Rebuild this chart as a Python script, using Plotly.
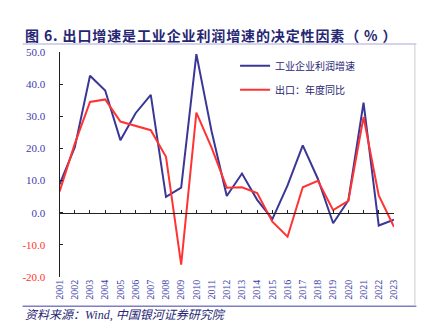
import plotly.graph_objects as go

years = list(range(2001, 2024))
profit_growth = [8.8, 20.4, 42.7, 38.1, 22.6, 31.0, 36.7, 4.9, 7.8, 49.4, 25.4, 5.2,
                 12.2, 4.0, -2.0, 8.5, 21.0, 10.5, -3.3, 3.8, 34.3, -4.0, -2.2]
export_growth = [6.6, 21.5, 34.5, 35.3, 28.4, 27.1, 25.7, 17.4, -16.2, 31.2, 20.3, 7.8,
                 7.9, 6.1, -2.8, -7.5, 7.9, 9.9, 0.8, 3.7, 29.8, 5.4, -4.4]
ytick_vals = [-20, -10, 0, 10, 20, 30, 40, 50]
series_names = ["工业企业利润增速", "出口：年度同比"]
title_text = "图 6. 出口增速是工业企业利润增速的决定性因素（ % ）"
source_text = "资料来源：Wind, 中国银河证券研究院"

W, H = 435, 331
BLUE = "#3b3796"
RED = "#ff3333"
TICKBLUE = "#3c3ca8"
NAVY = "#262673"

def px(x):
    return x / W

def py(y):
    return 1 - y / H

xdom = [px(55), px(398)]
ydom = [py(281), py(48)]
zero_pos = ydom[0] + (0 - (-20)) / 70 * (ydom[1] - ydom[0])

ytext = []
for v in ytick_vals:
    c = RED if v < 0 else TICKBLUE
    ytext.append(f'<span style="color:{c}">{v:.1f}</span>')

spaced_title = "\u200a".join(list(title_text))

fig = go.Figure()
fig.add_trace(go.Scatter(x=years, y=profit_growth, mode="lines", name=series_names[0],
                         line=dict(color=BLUE, width=2), legend="legend"))
fig.add_trace(go.Scatter(x=years, y=export_growth, mode="lines", name=series_names[1],
                         line=dict(color=RED, width=2), legend="legend2"))
fig.add_trace(go.Scatter(x=[years[0], years[-1]], y=[0, 0], xaxis="x2", mode="lines",
                         line=dict(width=0), showlegend=False, hoverinfo="skip"))

fig.update_layout(
    width=W, height=H,
    margin=dict(l=0, r=0, t=0, b=0),
    paper_bgcolor="white", plot_bgcolor="white",
    xaxis=dict(domain=xdom, range=[2001, 2023], tickvals=years,
               ticktext=[str(y) for y in years], tickangle=-90,
               showline=False, ticks="", showgrid=False, zeroline=False,
               tickfont=dict(family="Liberation Serif", size=10, color=TICKBLUE),
               anchor="y", fixedrange=True),
    xaxis2=dict(overlaying="x", anchor="free", position=zero_pos, range=[2001, 2023],
                tickvals=years, showticklabels=False, ticks="inside", ticklen=3,
                tickcolor="#222", showline=True, linecolor="#222", linewidth=1.2,
                showgrid=False, zeroline=False),
    yaxis=dict(domain=ydom, range=[-20, 50], tickvals=ytick_vals, ticktext=ytext,
               ticks="inside", ticklen=3, tickcolor="#222", showline=True,
               linecolor="#222", linewidth=1.2, showgrid=False, zeroline=False,
               tickfont=dict(family="Liberation Serif", size=11),
               ticklabelstandoff=11),
    legend=dict(x=px(235), y=py(62), xanchor="left", yanchor="middle",
                bgcolor="rgba(0,0,0,0)",
                font=dict(family="Noto Sans CJK SC", size=10, color=NAVY)),
    legend2=dict(x=px(235), y=py(87), xanchor="left", yanchor="middle",
                 bgcolor="rgba(0,0,0,0)",
                 font=dict(family="Noto Sans CJK SC", size=10, color=NAVY)),
    showlegend=True,
)

fig.add_annotation(text=f"<b>{spaced_title}</b>", x=px(17), y=py(30), xref="paper", yref="paper",
                   xanchor="left", yanchor="middle", showarrow=False,
                   font=dict(family="Noto Sans CJK SC", size=14, color=NAVY))
fig.add_annotation(text=f"<i>{source_text}</i>", x=px(17), y=py(321), xref="paper", yref="paper",
                   xanchor="left", yanchor="middle", showarrow=False,
                   font=dict(family="Liberation Serif, Noto Sans CJK SC", size=12, color=NAVY))

fig.add_shape(type="line", xref="paper", yref="paper", x0=px(17), x1=px(421), y0=py(39.5), y1=py(39.5),
              line=dict(color="#c4c4e4", width=1.5))
fig.add_shape(type="line", xref="paper", yref="paper", x0=px(17), x1=px(421), y0=py(311.5), y1=py(311.5),
              line=dict(color="#7e7ec4", width=1.5))
fig.add_shape(type="line", xref="paper", yref="paper", x0=px(419.5), x1=px(419.5), y0=py(40), y1=py(311),
              line=dict(color="#cccccc", width=1))

fig.write_html("out.html")
